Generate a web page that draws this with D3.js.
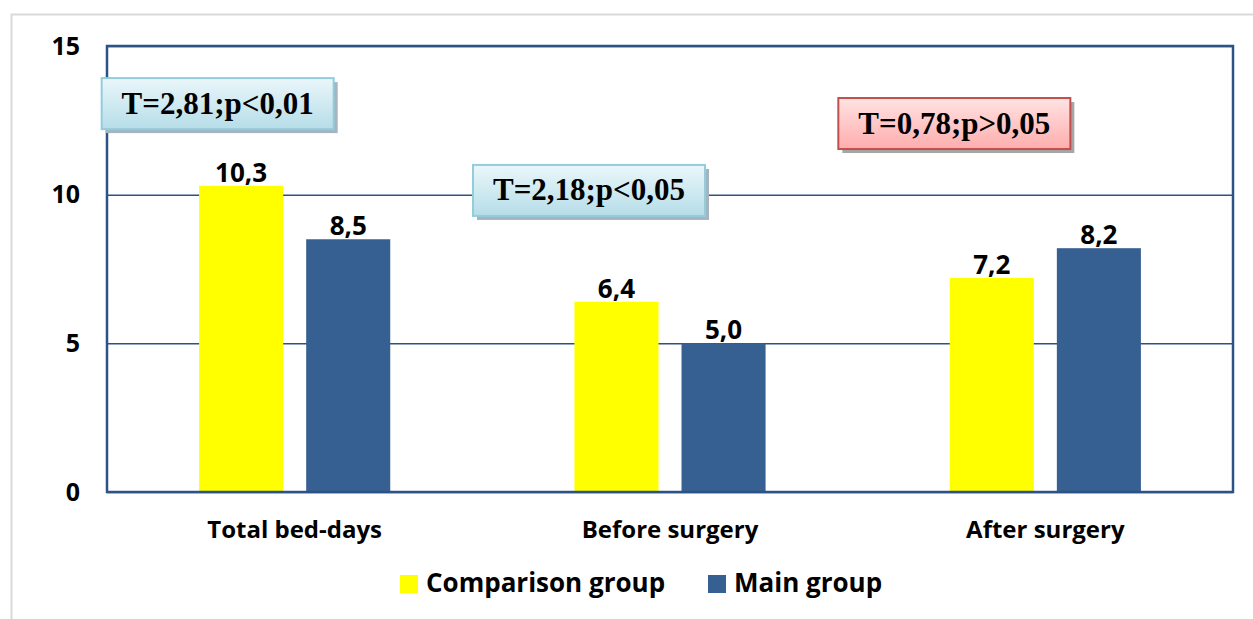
<!DOCTYPE html>
<html>
<head>
<meta charset="utf-8">
<script src="https://cdn.jsdelivr.net/npm/d3@7"></script>
<style>
  body { margin: 0; background: #fff; }
  svg text { font-family: 'Open Sans', sans-serif; font-weight: bold; }
  .note text { font-family: 'Liberation Serif', 'Times New Roman', serif; }
</style>
</head>
<body>
<div id="chart"></div>
<script>
'use strict';
// Chart data
const categories = ['Total bed-days', 'Before surgery', 'After surgery']
const seriesNames = ['Comparison group', 'Main group']
const comparison = [10.3, 6.4, 7.2]
const mainGroup = [8.5, 5.0, 8.2]
const yTicks = [0, 5, 10, 15]
const noteTexts = ['T=2,81;p<0,01', 'T=2,18;p<0,05', 'T=0,78;p>0,05']
const noteSignificant = [true, true, false]

// Layout
const W = 1253, H = 619
const margin = { top: 46, right: 20, bottom: 127, left: 107 }
const colors = ['#ffff00', '#376092']
const axisColor = '#2c5287'
// box placement per note: category index, x offset from band centre, top value
const notePlace = [
  { cat: 0, dx: -193, top: 13.92 },
  { cat: 1, dx: -197, top: 11.0 },
  { cat: 2, dx: -207, top: 13.25 }
]

const svg = d3.select('#chart').append('svg')
  .attr('width', W).attr('height', H)

// outer frame (chart area border, clipped by window)
svg.append('path')
  .attr('d', `M11.5 ${H} V14.5 H${W}`)
  .attr('fill', 'none').attr('stroke', '#d9d9d9').attr('stroke-width', 2)

const g = svg.append('g').attr('transform', `translate(${margin.left},${margin.top})`)
const width = W - margin.left - margin.right
const height = H - margin.top - margin.bottom

const x0 = d3.scaleBand().domain(categories).range([0, width])
const x1 = d3.scaleBand().domain(seriesNames).range([0, width / 3]).paddingInner(0.215).paddingOuter(0.86)
const y = d3.scaleLinear().domain([0, 15]).range([height, 0])

// gridlines
g.append('g')
  .call(d3.axisLeft(y).tickValues(yTicks).tickSize(-width).tickFormat(''))
  .call(s => s.select('.domain').remove())
  .call(s => s.selectAll('line').attr('stroke', axisColor).attr('stroke-width', 1.5))

// tick labels
g.append('g')
  .call(d3.axisLeft(y).tickValues(yTicks).tickSize(0).tickPadding(27))
  .call(s => s.select('.domain').remove())
  .call(s => s.selectAll('text').attr('font-size', 25).attr('fill', '#000')
    .attr('font-family', "'Open Sans', sans-serif").attr('font-weight', 'bold'))

// bars
const data = categories.map((c, i) => ({ cat: c, values: [comparison[i], mainGroup[i]] }))
const groups = g.selectAll('.cat').data(data).join('g')
  .attr('transform', d => `translate(${x0(d.cat)},0)`)
groups.selectAll('rect').data(d => d.values.map((v, j) => ({ name: seriesNames[j], v, j })))
  .join('rect')
  .attr('x', d => x1(d.name))
  .attr('y', d => y(d.v))
  .attr('width', x1.bandwidth())
  .attr('height', d => height - y(d.v))
  .attr('fill', d => colors[d.j])
groups.selectAll('text.val').data(d => d.values.map((v, j) => ({ name: seriesNames[j], v })))
  .join('text')
  .attr('class', 'val')
  .attr('x', d => x1(d.name) + x1.bandwidth() / 2)
  .attr('y', d => y(d.v) - 4)
  .attr('text-anchor', 'middle')
  .attr('font-size', 26)
  .text(d => d3.format('.1f')(d.v).replace('.', ','))

// plot border
g.append('rect')
  .attr('width', width).attr('height', height)
  .attr('fill', 'none').attr('stroke', axisColor).attr('stroke-width', 2.5)

// category labels
g.append('g')
  .attr('transform', `translate(0,${height})`)
  .call(d3.axisBottom(x0).tickSize(0).tickPadding(29))
  .call(s => s.select('.domain').remove())
  .call(s => s.selectAll('text').attr('font-size', 24).attr('fill', '#000')
    .attr('font-family', "'Open Sans', sans-serif").attr('font-weight', 'bold'))

// annotation boxes
const defs = svg.append('defs')
const gradBlue = defs.append('linearGradient').attr('id', 'gBlue').attr('x1', 0).attr('y1', 0).attr('x2', 0).attr('y2', 1)
gradBlue.append('stop').attr('offset', 0).attr('stop-color', '#eaf7fa')
gradBlue.append('stop').attr('offset', 1).attr('stop-color', '#b6dde8')
const gradRed = defs.append('linearGradient').attr('id', 'gRed').attr('x1', 0).attr('y1', 0).attr('x2', 0).attr('y2', 1)
gradRed.append('stop').attr('offset', 0).attr('stop-color', '#ffe3e3')
gradRed.append('stop').attr('offset', 1).attr('stop-color', '#ffadad')

const boxW = 232, boxH = 51
const notes = g.selectAll('.note').data(noteTexts.map((t, i) => ({ t, sig: noteSignificant[i], p: notePlace[i] })))
  .join('g')
  .attr('class', 'note')
  .attr('transform', d => `translate(${x0(categories[d.p.cat]) + x0.bandwidth() / 2 + d.p.dx},${y(d.p.top)})`)
notes.append('rect')
  .attr('x', 4).attr('y', 4).attr('width', boxW).attr('height', boxH)
  .attr('fill', d => d.sig ? '#a6b4c0' : '#a6a6a6')
notes.append('rect')
  .attr('width', boxW).attr('height', boxH)
  .attr('fill', d => d.sig ? 'url(#gBlue)' : 'url(#gRed)')
  .attr('stroke', d => d.sig ? '#92cddc' : '#c0504d').attr('stroke-width', 2)
notes.append('text')
  .attr('x', boxW / 2).attr('y', boxH / 2 + 10)
  .attr('text-anchor', 'middle')
  .attr('font-size', 31)
  .text(d => d.t)

// legend
const legend = svg.append('g').attr('transform', `translate(400,${H - 44})`)
const legendX = [0, 308]
seriesNames.forEach((n, i) => {
  const lg = legend.append('g').attr('transform', `translate(${legendX[i]},0)`)
  lg.append('rect').attr('width', 18).attr('height', 18).attr('fill', colors[i])
  lg.append('text').attr('x', 26).attr('y', 17).attr('font-size', 26).text(n)
})
</script>
</body>
</html>
